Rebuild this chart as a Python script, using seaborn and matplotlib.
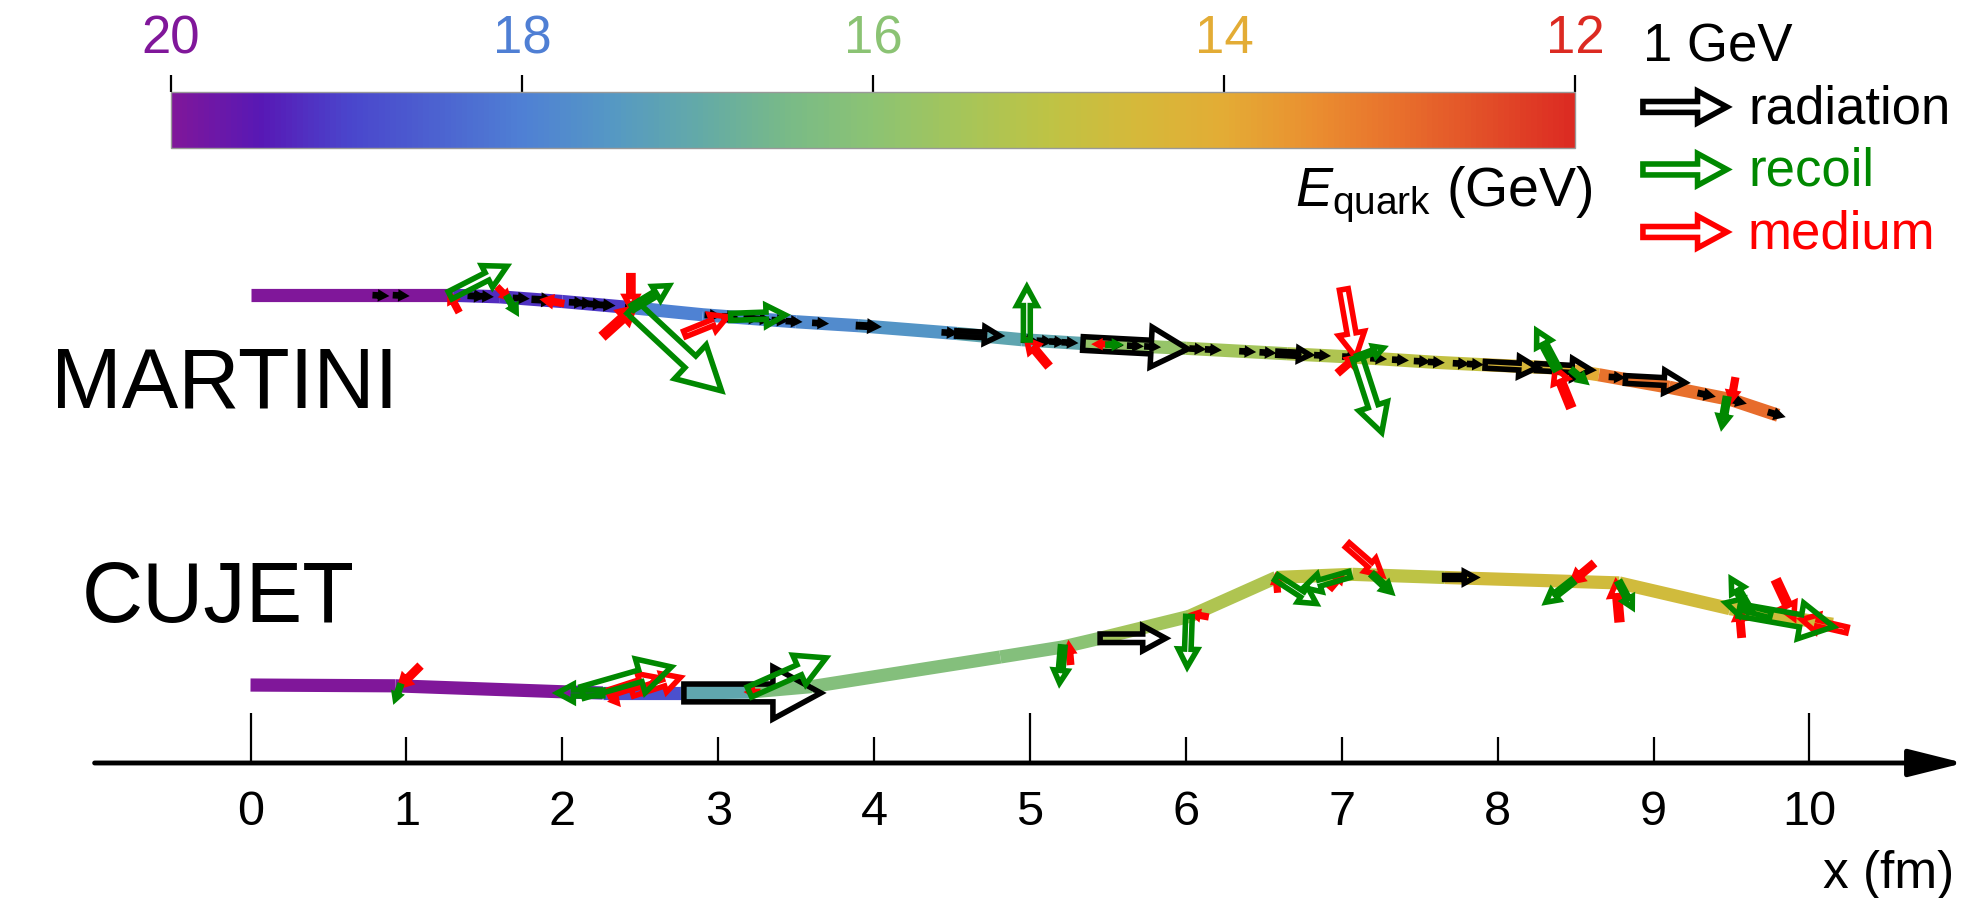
import numpy as np
import matplotlib
matplotlib.use("Agg")
import matplotlib.pyplot as plt
import seaborn as sns
from matplotlib.collections import LineCollection
from matplotlib.colors import Normalize
from matplotlib.cm import ScalarMappable

# colour scale for the quark energy, 12 -> 20 GeV in 0.5 GeV steps
CBAR_COLORS = ["#DC2A22", "#E24E28", "#E8702C", "#EA9030", "#E3AC35", "#D5B93A",
               "#BEC345", "#A5C55A", "#8CC373", "#78BA88", "#63AAA8", "#5598C4",
               "#4F80D4", "#4C62D0", "#4A45CC", "#5818B5", "#80179A"]
E_MIN, E_MAX = 12, 20
CBAR_TICKS = [20, 18, 16, 14, 12]

X_TICKS = list(range(11))
X_MAJOR = [0, 5, 10]

# MARTINI track: node positions and quark energy on each segment
MARTINI_X = [0, 1.3, 1.6, 2.0, 2.45, 2.9, 3.5, 3.9, 4.53, 4.95, 5.35, 6.0,
             6.65, 7.05, 7.6, 7.9, 8.35, 8.65, 9.1, 9.5, 9.8]
MARTINI_Y = [3.00, 3.00, 2.99, 2.96, 2.92, 2.875, 2.83, 2.805, 2.755, 2.715, 2.69,
             2.66, 2.625, 2.605, 2.57, 2.555, 2.535, 2.49, 2.41, 2.33, 2.23]
MARTINI_E = [20.0, 19.25, 19.2, 19.1, 17.95, 17.85, 17.75, 17.55, 17.15, 17.1,
             15.8, 15.55, 15.3, 15.0, 14.9, 14.4, 14.0, 13.05, 13.0, 12.95]

# CUJET track
CUJET_X = [0, 0.93, 2.05, 2.26, 2.76, 3.2, 3.6, 4.81, 5.21, 5.45, 6.02, 6.58,
           7.07, 7.66, 8.78, 9.49, 10.15]
CUJET_Y = [0.50, 0.495, 0.455, 0.449, 0.449, 0.455, 0.49, 0.68, 0.744, 0.80, 0.94,
           1.19, 1.21, 1.19, 1.155, 0.99, 0.89]
CUJET_E = [20.0, 20.0, 19.6, 18.8, 17.1, 16.25, 16.2, 16.2, 16.0, 15.55, 15.3,
           15.0, 15.0, 14.6, 14.6, 14.6]

# emitted / absorbed partons: anchor x on track (fm), energy (GeV), angle (deg),
# 1 = arrow ends on the track, 0 = arrow starts on the track
M_RAD_X = [0.80, 0.93, 1.41, 1.47, 1.70, 1.82, 2.06, 2.11, 2.18, 2.24, 2.42, 2.93,
           3.04, 3.18, 3.25, 3.36, 3.45, 3.62, 3.90, 4.45, 4.53, 4.96, 5.06, 5.14,
           5.22, 5.34, 5.51, 5.64, 5.75, 6.04, 6.14, 6.36, 6.49, 6.59, 6.84, 7.02,
           7.20, 7.34, 7.48, 7.57, 7.73, 7.82, 7.92, 8.25, 8.73, 8.82, 9.30, 9.51, 9.75]
M_RAD_E = [0.1, 0.1, 0.12, 0.1, 0.1, 0.18, 0.1, 0.1, 0.1, 0.12, 0.1, 0.1,
           0.1, 0.1, 0.1, 0.1, 0.1, 0.1, 0.21, 0.1, 0.51, 0.1, 0.1, 0.1,
           0.1, 1.25, 0.1, 0.1, 0.1, 0.1, 0.1, 0.1, 0.1, 0.38, 0.1, 0.1,
           0.1, 0.1, 0.1, 0.1, 0.1, 0.1, 0.62, 0.65, 0.1, 0.71, 0.12, 0.1, 0.12]
M_RAD_A = [-3] * 46 + [-12, -14, -16]

M_REC_X = [1.28, 1.65, 2.45, 2.45, 3.08, 4.98, 5.50, 7.10, 7.10, 8.38, 8.48, 9.47]
M_REC_E = [0.76, 0.20, 0.51, 1.45, 0.65, 0.63, 0.12, 0.33, 0.94, 0.51, 0.20, 0.33]
M_REC_A = [27, -60, 31, -43, 2, 90, 0, 20, -72, 118, -40, -100]
M_REC_IN = [0] * 12

M_MED_X = [1.28, 1.65, 1.89, 2.44, 2.46, 3.06, 4.98, 5.43, 7.09, 7.09, 8.37, 9.50]
M_MED_E = [0.20, 0.15, 0.20, 0.38, 0.48, 0.55, 0.38, 0.10, 0.82, 0.26, 0.48, 0.24]
M_MED_A = [118, -45, 170, -90, 42, 22, 130, 180, -80, 41, 112, -100]
M_MED_IN = [1] * 12

C_RAD_X = [2.78, 5.45, 7.66]
C_RAD_E = [1.63, 0.78, 0.36]
C_RAD_A = [0, 0, 0]

C_REC_X = [0.96, 2.13, 2.26, 3.20, 5.21, 6.02, 6.58, 7.05, 7.20, 8.48, 8.78, 9.55, 9.62, 9.75]
C_REC_E = [0.17, 1.10, 0.54, 1.00, 0.43, 0.60, 0.57, 0.57, 0.30, 0.40, 0.33, 1.14, 0.45, 0.55]
C_REC_A = [-110, 16, 180, 24, -95, -92, -33, 196, -43, -142, -62, -10, 120, 165]
C_REC_IN = [0] * 14

C_MED_X = [0.96, 2.30, 2.45, 2.30, 3.20, 5.25, 6.05, 6.58, 7.26, 7.00, 8.48, 8.76, 9.55, 9.90, 9.95]
C_MED_E = [0.31, 0.60, 0.60, 0.15, 0.10, 0.20, 0.15, 0.15, 0.55, 0.20, 0.31, 0.44, 0.30, 0.48, 0.55]
C_MED_A = [-135, 18, 18, -50, 180, 95, 170, 95, -41, 50, -140, 95, 95, -65, 167]
C_MED_IN = [1, 0, 0, 0, 1, 1, 1, 1, 1, 1, 1, 1, 1, 1, 1]

LEGEND_LABELS = ["radiation", "recoil", "medium"]
RAD_COLOR, REC_COLOR, MED_COLOR = "black", "#008800", "#FF0000"

GEV_LEN = 0.539  # arrow length of 1 GeV in fm


def draw_track(ax, xs, ys, es, cmap, norm):
    pts = np.column_stack([xs, ys])
    segs = np.stack([pts[:-1], pts[1:]], axis=1)
    lc = LineCollection(segs, cmap=cmap, norm=norm, linewidths=9.5,
                        capstyle="butt", joinstyle="round", zorder=2)
    lc.set_array(np.asarray(es))
    ax.add_collection(lc)


def draw_arrow(ax, x0, y0, energy, angle, color, inward=False, z=4):
    length = energy * GEV_LEN
    t = np.deg2rad(angle)
    dx, dy = length * np.cos(t), length * np.sin(t)
    if inward:
        x0, y0 = x0 - dx, y0 - dy
    ax.arrow(x0, y0, dx, dy, width=0.13 * length, head_width=0.38 * length,
             head_length=0.35 * length, length_includes_head=True,
             fc="none", ec=color, lw=4.0, joinstyle="miter", zorder=z)


def draw_arrows(ax, tx, ty, xs, es, angs, ins, color, z):
    for x, e, a, inw in zip(xs, es, angs, ins):
        draw_arrow(ax, x, np.interp(x, tx, ty), e, a, color, bool(inw), z)


def main():
    sns.set_theme(style="white")
    plt.rcParams["font.family"] = ["Liberation Sans", "DejaVu Sans"]
    plt.rcParams["text.color"] = "black"
    plt.rcParams["mathtext.fontset"] = "custom"
    plt.rcParams["mathtext.rm"] = "Liberation Sans"
    plt.rcParams["mathtext.it"] = "Liberation Sans:italic"

    cmap = sns.blend_palette(CBAR_COLORS, n_colors=256, as_cmap=True)
    norm = Normalize(E_MIN, E_MAX)

    fig = plt.figure(figsize=(19.84, 8.98), dpi=100)
    ax = fig.add_axes([0, 0, 1, 1])
    ax.set_xlim(-1.607, 11.120)
    ax.set_ylim(-0.866, 4.894)
    ax.axis("off")

    # tracks
    draw_track(ax, MARTINI_X, MARTINI_Y, MARTINI_E, cmap, norm)
    draw_track(ax, CUJET_X, CUJET_Y, CUJET_E, cmap, norm)

    draw_arrows(ax, MARTINI_X, MARTINI_Y, M_RAD_X, M_RAD_E, M_RAD_A,
                [0] * len(M_RAD_X), RAD_COLOR, 3)
    draw_arrows(ax, MARTINI_X, MARTINI_Y, M_MED_X, M_MED_E, M_MED_A, M_MED_IN, MED_COLOR, 4)
    draw_arrows(ax, MARTINI_X, MARTINI_Y, M_REC_X, M_REC_E, M_REC_A, M_REC_IN, REC_COLOR, 5)

    draw_arrows(ax, CUJET_X, CUJET_Y, C_RAD_X, C_RAD_E, C_RAD_A,
                [0] * len(C_RAD_X), RAD_COLOR, 3)
    draw_arrows(ax, CUJET_X, CUJET_Y, C_MED_X, C_MED_E, C_MED_A, C_MED_IN, MED_COLOR, 4)
    draw_arrows(ax, CUJET_X, CUJET_Y, C_REC_X, C_REC_E, C_REC_A, C_REC_IN, REC_COLOR, 5)

    ax.text(-1.28, 2.277, "MARTINI", fontsize=61, ha="left", va="baseline")
    ax.text(-1.081, 0.904, "CUJET", fontsize=61, ha="left", va="baseline")

    # x axis
    ax.annotate("", xy=(10.99, 0), xytext=(-1.0, 0),
                arrowprops=dict(arrowstyle="-|>,head_length=3.4,head_width=0.85",
                                lw=3.5, color="black", mutation_scale=10,
                                shrinkA=0, shrinkB=0))
    tick_len = [0.32 if t in X_MAJOR else 0.167 for t in X_TICKS]
    ax.vlines(X_TICKS, 0, tick_len, color="black", lw=1.6)
    for t in X_TICKS:
        ax.text(t, -0.398, str(t), fontsize=35, ha="center", va="baseline")
    ax.text(10.93, -0.80, "x (fm)", fontsize=37, ha="right", va="baseline")

    # legend
    ax.text(8.93, 4.497, "1 GeV", fontsize=38, ha="left", va="baseline")
    leg_colors = [RAD_COLOR, REC_COLOR, MED_COLOR]
    for i, (lab, col) in enumerate(zip(LEGEND_LABELS, leg_colors)):
        y = 4.208 - 0.401 * i
        draw_arrow(ax, 8.932, y, 1.0, 0, col, z=5)
        ax.text(9.606, y - 0.103, lab, fontsize=38, color=col, ha="left", va="baseline")

    ax.text(8.612, 3.573, r"$E_{\rm quark}$ (GeV)", fontsize=40, ha="right", va="baseline")

    # colour bar
    cax = fig.add_axes([171 / 1984, (898 - 148) / 898, 1404 / 1984, 56 / 898])
    cb = fig.colorbar(ScalarMappable(norm=norm, cmap=cmap), cax=cax, orientation="horizontal")
    cax.invert_xaxis()
    cax.xaxis.set_ticks_position("top")
    cb.set_ticks(CBAR_TICKS)
    cb.set_ticklabels([str(t) for t in CBAR_TICKS])
    cax.tick_params(axis="x", length=12, width=1.6, pad=8, labelsize=38, colors="black")
    for lbl, t in zip(cax.get_xticklabels(), CBAR_TICKS):
        lbl.set_color(cmap(norm(t)))
    cb.outline.set_edgecolor("#999999")
    cb.outline.set_linewidth(1)

    fig.savefig("out.png", dpi=100)
    plt.close(fig)


if __name__ == "__main__":
    main()
